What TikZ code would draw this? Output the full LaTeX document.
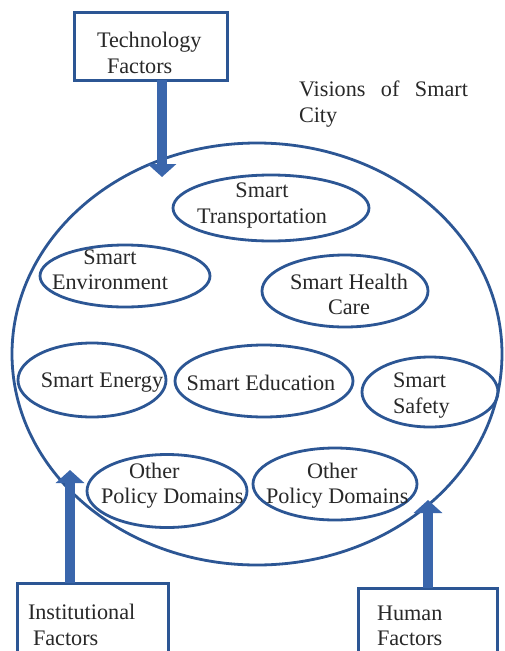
\documentclass[tikz,border=0pt]{standalone}
\usepackage{fontspec}
\setmainfont{Liberation Serif}
\usetikzlibrary{shapes.geometric,arrows.meta}
\definecolor{bline}{RGB}{44,86,148}
\definecolor{bfill}{RGB}{58,102,172}
\definecolor{txt}{RGB}{40,40,40}
\begin{document}
\begin{tikzpicture}[x=1pt,y=-1pt,
  every node/.style={font=\fontsize{22.2}{25.5}\selectfont, text=txt, inner sep=0pt, outer sep=0pt},
  oval/.style n args={2}{draw=bline, line width=2.8pt, ellipse, minimum width=#1, minimum height=#2},
  factorbox/.style n args={2}{draw=bline, line width=3pt, rectangle, minimum width=#1, minimum height=#2},
  bigarrow/.style={draw=bfill, line width=10.5pt, -{Triangle[width=28pt,length=13pt]}},
  lbl/.style={align=center},
  lbll/.style={align=left, anchor=west}]
\clip (0,0) rectangle (504,651);
\fill[white] (0,0) rectangle (504,651);

% big ellipse
\node[oval={490pt}{422pt}] (city) at (257,354) {};

% factor boxes
\node[factorbox={153pt}{68pt}] (tech) at (150.5,46) {};
\node[factorbox={151pt}{87pt}] (inst) at (92.5,626.5) {};
\node[factorbox={139pt}{82pt}] (human) at (427.5,629) {};

\node[lbll] (techt) at (97,53) {Technology\\\hspace{10pt}Factors};
\node[lbll] (instt) at (28,625) {Institutional\\\hspace{5pt}Factors};
\node[lbll] (humant) at (377,626) {Human\\Factors};

% title
\node[lbll] (title) at (299,104) {\makebox[169pt][s]{Visions of Smart}\\City};

% inner ellipses
\node[oval={196pt}{66pt}] (trans) at (271,208) {};
\node[oval={170pt}{62pt}] (env) at (125,276) {};
\node[oval={166pt}{72pt}] (health) at (345,291) {};
\node[oval={148pt}{74pt}] (energy) at (92,380) {};
\node[oval={178pt}{72pt}] (edu) at (264,381) {};
\node[oval={136pt}{70pt}] (safety) at (430,392) {};
\node[oval={160pt}{73pt}] (opd1) at (167,491) {};
\node[oval={164pt}{72pt}] (opd2) at (335,484) {};

\node[lbl] (transt) at (262,205.5) {Smart\\Transportation};
\node[lbl] (envt) at (110,270) {Smart\\Environment};
\node[lbl] (healtht) at (349,294.5) {Smart Health\\Care};
\node[lbl] (energyt) at (102,383) {Smart Energy};
\node[lbl] (edut) at (261,383) {Smart Education};
\node[lbll] (safetyt) at (393,395.5) {Smart\\Safety};
\node[lbll] (opd1t) at (101,485.5) {\hspace{28pt}Other\\Policy Domains};
\node[lbll] (opd2t) at (266,485.5) {\hspace{41pt}Other\\Policy Domains};

% arrows
\coordinate (tT) at (162,177);
\coordinate (tI) at (70,470);
\coordinate (tH) at (428,500);
\draw[bigarrow] (tech.south -| tT) -- (tT);
\draw[bigarrow] (inst.north -| tI) -- (tI);
\draw[bigarrow] (human.north -| tH) -- (tH);
\end{tikzpicture}
\end{document}
